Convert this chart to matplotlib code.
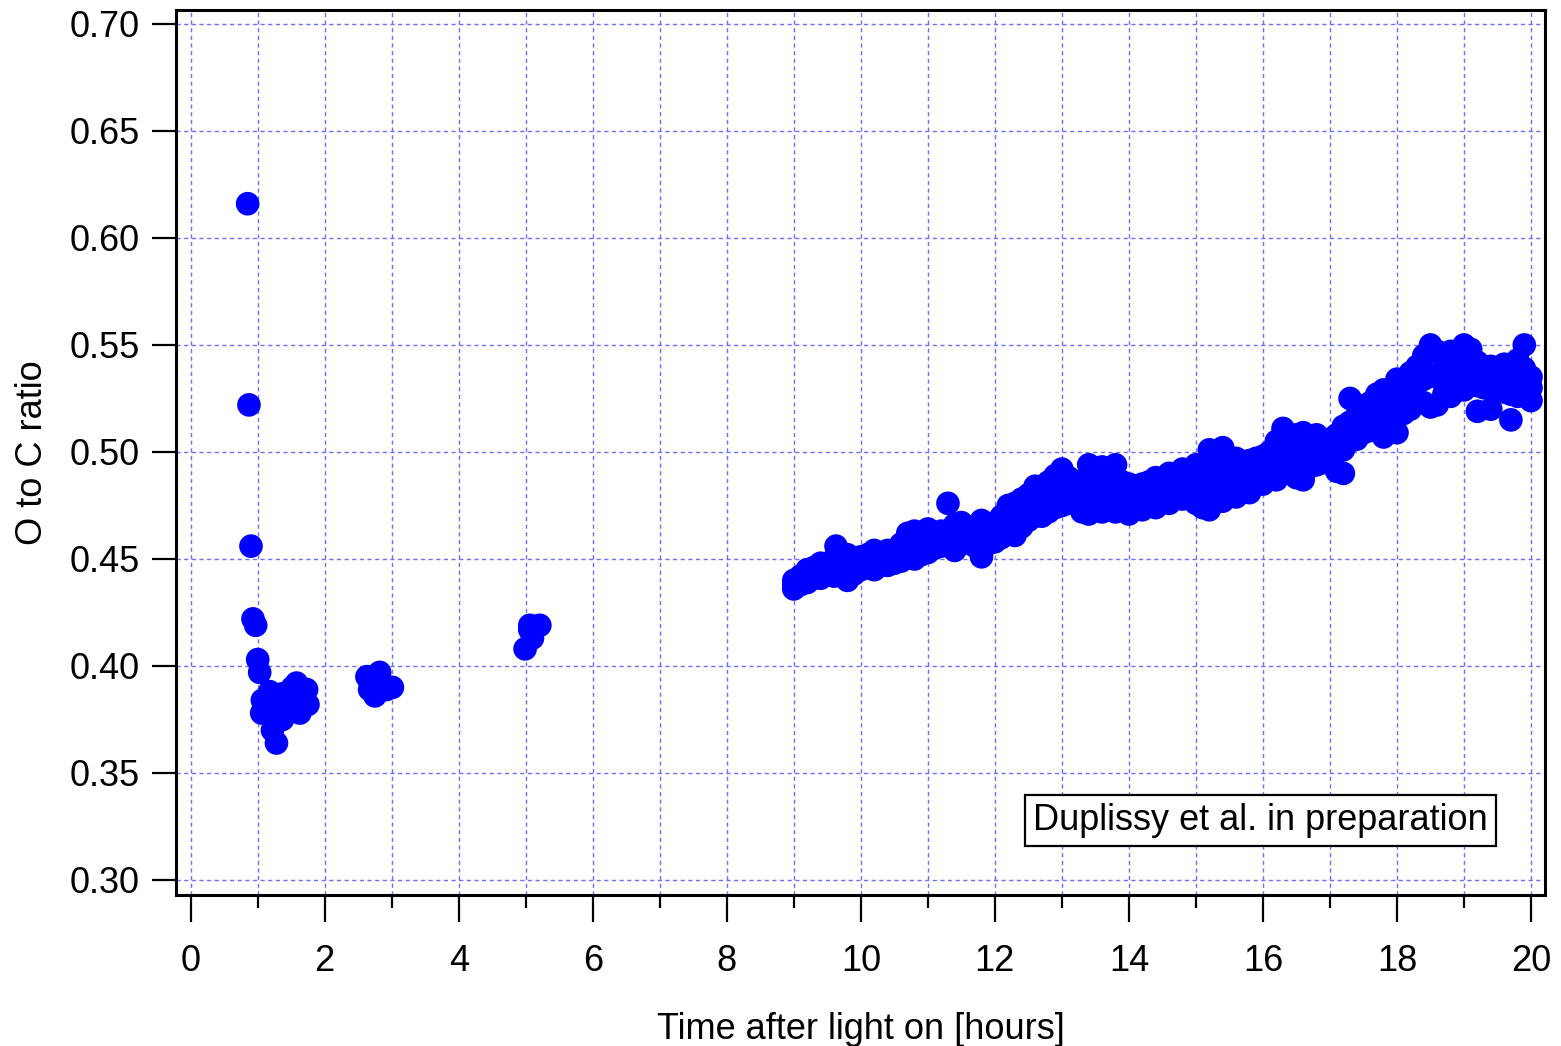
import matplotlib.pyplot as plt
from matplotlib.ticker import MultipleLocator

plt.rcParams['font.family'] = ['Liberation Sans', 'DejaVu Sans']

# early measurements (hours, O:C)
early_t = [0.85, 0.87, 0.90, 0.93, 0.97, 1.00, 1.03, 1.07, 1.06, 1.18, 1.22, 1.22,
           1.28, 1.37, 1.37, 1.48, 1.52, 1.58, 1.63, 1.73, 1.75,
           2.63, 2.67, 2.75, 2.82, 2.92, 3.01,
           4.99, 5.06, 5.06, 5.10, 5.21]
early_oc = [0.616, 0.522, 0.456, 0.422, 0.419, 0.403, 0.397, 0.384, 0.378, 0.388, 0.383, 0.370,
            0.364, 0.387, 0.375, 0.381, 0.390, 0.392, 0.378, 0.389, 0.382,
            0.395, 0.389, 0.386, 0.397, 0.389, 0.390,
            0.408, 0.417, 0.419, 0.413, 0.419]

# continuous period 9-20 h: lower, middle and upper part of the band
main_t = [9.0, 9.1, 9.2, 9.3, 9.4, 9.5, 9.6, 9.7, 9.8, 9.9,
          10.0, 10.1, 10.2, 10.3, 10.4, 10.5, 10.6, 10.7, 10.8, 10.9,
          11.0, 11.1, 11.2, 11.3, 11.4, 11.5, 11.6, 11.7, 11.8, 11.9,
          12.0, 12.1, 12.2, 12.3, 12.4, 12.5, 12.6, 12.7, 12.8, 12.9,
          13.0, 13.1, 13.2, 13.3, 13.4, 13.5, 13.6, 13.7, 13.8, 13.9,
          14.0, 14.1, 14.2, 14.3, 14.4, 14.5, 14.6, 14.7, 14.8, 14.9,
          15.0, 15.1, 15.2, 15.3, 15.4, 15.5, 15.6, 15.7, 15.8, 15.9,
          16.0, 16.1, 16.2, 16.3, 16.4, 16.5, 16.6, 16.7, 16.8, 16.9,
          17.0, 17.1, 17.2, 17.3, 17.4, 17.5, 17.6, 17.7, 17.8, 17.9,
          18.0, 18.1, 18.2, 18.3, 18.4, 18.5, 18.6, 18.7, 18.8, 18.9,
          19.0, 19.1, 19.2, 19.3, 19.4, 19.5, 19.6, 19.7, 19.8, 19.9, 20.0]
oc_low = [0.436, 0.438, 0.439, 0.441, 0.441, 0.443, 0.442, 0.444, 0.440, 0.443,
          0.445, 0.446, 0.445, 0.447, 0.447, 0.448, 0.449, 0.451, 0.450, 0.452,
          0.453, 0.455, 0.456, 0.458, 0.454, 0.457, 0.458, 0.456, 0.451, 0.457,
          0.458, 0.460, 0.462, 0.461, 0.465, 0.468, 0.470, 0.470, 0.472, 0.474,
          0.475, 0.476, 0.477, 0.472, 0.471, 0.474, 0.472, 0.474, 0.472, 0.475,
          0.471, 0.474, 0.473, 0.475, 0.474, 0.477, 0.476, 0.479, 0.478, 0.481,
          0.476, 0.474, 0.473, 0.478, 0.477, 0.481, 0.479, 0.484, 0.481, 0.486,
          0.485, 0.488, 0.487, 0.490, 0.490, 0.488, 0.487, 0.493, 0.494, 0.495,
          0.497, 0.491, 0.490, 0.505, 0.506, 0.509, 0.510, 0.512, 0.507, 0.514,
          0.509, 0.518, 0.520, 0.524, 0.523, 0.521, 0.522, 0.527, 0.526, 0.530,
          0.529, 0.532, 0.519, 0.530, 0.520, 0.531, 0.528, 0.515, 0.526, 0.528, 0.524]
oc_mid = [0.438, 0.440, 0.442, 0.443, 0.445, 0.445, 0.446, 0.446, 0.446, 0.447,
          0.448, 0.449, 0.450, 0.450, 0.451, 0.451, 0.453, 0.456, 0.457, 0.456,
          0.458, 0.458, 0.459, 0.460, 0.460, 0.462, 0.461, 0.460, 0.460, 0.462,
          0.463, 0.465, 0.468, 0.469, 0.471, 0.474, 0.477, 0.476, 0.479, 0.481,
          0.483, 0.482, 0.481, 0.479, 0.480, 0.479, 0.480, 0.479, 0.481, 0.480,
          0.478, 0.479, 0.479, 0.480, 0.481, 0.482, 0.483, 0.484, 0.485, 0.485,
          0.485, 0.484, 0.487, 0.488, 0.490, 0.489, 0.488, 0.490, 0.489, 0.491,
          0.492, 0.494, 0.496, 0.500, 0.498, 0.498, 0.498, 0.500, 0.501, 0.500,
          0.501, 0.500, 0.501, 0.514, 0.514, 0.513, 0.516, 0.520, 0.518, 0.520,
          0.522, 0.524, 0.528, 0.532, 0.534, 0.536, 0.535, 0.536, 0.537, 0.538,
          0.540, 0.540, 0.531, 0.534, 0.530, 0.534, 0.535, 0.527, 0.535, 0.539, 0.530]
oc_high = [0.440, 0.442, 0.445, 0.446, 0.448, 0.447, 0.450, 0.448, 0.452, 0.450,
           0.451, 0.452, 0.454, 0.452, 0.454, 0.453, 0.457, 0.462, 0.463, 0.460,
           0.464, 0.461, 0.463, 0.462, 0.466, 0.467, 0.465, 0.464, 0.468, 0.466,
           0.467, 0.470, 0.475, 0.476, 0.478, 0.480, 0.484, 0.483, 0.486, 0.489,
           0.492, 0.488, 0.486, 0.485, 0.494, 0.484, 0.493, 0.485, 0.494, 0.486,
           0.485, 0.484, 0.485, 0.486, 0.488, 0.487, 0.490, 0.489, 0.492, 0.490,
           0.494, 0.493, 0.501, 0.497, 0.502, 0.496, 0.497, 0.495, 0.496, 0.497,
           0.498, 0.500, 0.505, 0.511, 0.506, 0.508, 0.509, 0.506, 0.508, 0.505,
           0.506, 0.508, 0.512, 0.525, 0.522, 0.518, 0.523, 0.527, 0.529, 0.526,
           0.534, 0.530, 0.537, 0.540, 0.545, 0.550, 0.547, 0.544, 0.547, 0.545,
           0.550, 0.548, 0.542, 0.538, 0.540, 0.537, 0.541, 0.538, 0.543, 0.550, 0.535]

# single outliers above the band
extra_t = [9.63, 11.30]
extra_oc = [0.456, 0.476]

fig = plt.figure(figsize=(15.61, 10.46), dpi=100)
ax = fig.add_axes([0.1127, 0.1444, 0.8771, 0.846])

kw = dict(s=290, color='#0000ff', edgecolors='none', zorder=3)
ax.scatter(early_t, early_oc, **kw)
for vals in (oc_low, oc_mid, oc_high):
    ax.scatter(main_t, vals, **kw)
ax.scatter(extra_t, extra_oc, **kw)

ax.set_xlim(-0.22, 20.21)
ax.set_ylim(0.293, 0.7065)
ax.xaxis.set_major_locator(MultipleLocator(2))
ax.xaxis.set_minor_locator(MultipleLocator(1))
ax.yaxis.set_major_locator(MultipleLocator(0.05))
ax.yaxis.set_major_formatter(plt.FormatStrFormatter('%.2f'))

ax.grid(True, which='both', axis='x', color='#6f6fff', linestyle=(0, (3, 2.5)), linewidth=1.0)
ax.grid(True, which='major', axis='y', color='#6f6fff', linestyle=(0, (3, 2.5)), linewidth=1.0)
ax.set_axisbelow(True)

for sp in ax.spines.values():
    sp.set_linewidth(2.2)
ax.tick_params(axis='x', which='major', direction='out', length=19.5, width=1.6, labelsize=26, pad=15.5)
ax.tick_params(axis='x', which='minor', direction='out', length=9.5, width=1.6)
ax.tick_params(axis='y', which='major', direction='out', length=17, width=1.6, labelsize=26, pad=9)

ax.set_xlabel('Time after light on [hours]', fontsize=26, labelpad=24)
ax.set_ylabel('O to C ratio', fontsize=26, labelpad=14)

ax.text(0.792, 0.084, 'Duplissy et al. in preparation', transform=ax.transAxes,
        fontsize=26, ha='center', va='center', zorder=5,
        bbox=dict(boxstyle='square,pad=0.22', facecolor='white', edgecolor='black', linewidth=1.6))

fig.savefig('out.png', dpi=100)
